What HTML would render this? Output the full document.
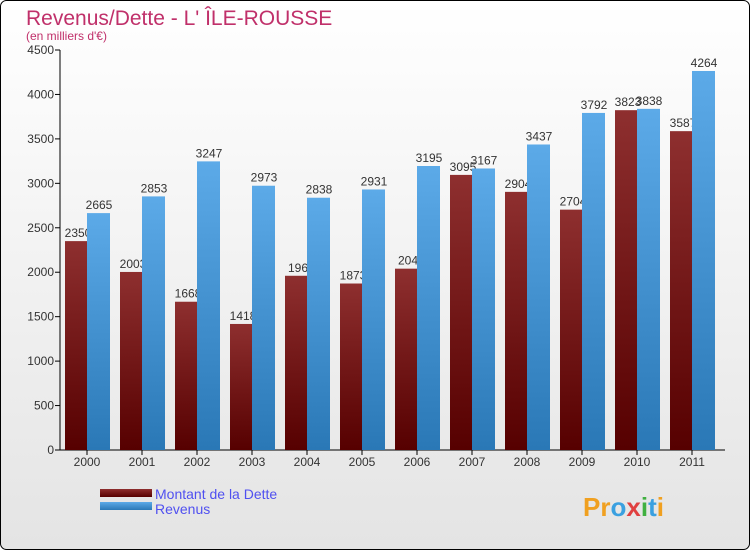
<!DOCTYPE html>
<html><head><meta charset="utf-8"><style>
body{margin:0;background:#fff}
svg{display:block;font-family:"Liberation Sans",sans-serif}
</style></head><body>
<svg width="750" height="550">
<defs>
<linearGradient id="bg" x1="0" y1="0" x2="0" y2="1"><stop offset="0" stop-color="#ffffff"/><stop offset="1" stop-color="#e4e4e4"/></linearGradient>
<linearGradient id="gd" x1="0" y1="0" x2="0" y2="1"><stop offset="0" stop-color="#8e2f2f"/><stop offset="1" stop-color="#560000"/></linearGradient>
<linearGradient id="gr" x1="0" y1="0" x2="0" y2="1"><stop offset="0" stop-color="#5caae8"/><stop offset="1" stop-color="#2a78b6"/></linearGradient>
</defs>
<rect x="0.5" y="0.5" width="749" height="549" rx="6" fill="url(#bg)" stroke="#000"/>
<text x="26" y="25" font-size="21" fill="#c0306a">Revenus/Dette - L' ÎLE-ROUSSE</text>
<text x="26" y="40" font-size="12" fill="#c0306a">(en milliers d'€)</text>
<g id="plot"></g>
<rect x="100" y="489" width="52" height="8" fill="url(#gd)"/>
<rect x="100" y="502" width="52" height="8" fill="url(#gr)"/>
<text x="155" y="499" font-size="14" fill="#5050f0">Montant de la Dette</text>
<text x="155" y="514" font-size="14" fill="#5050f0">Revenus</text>
<text x="583" y="516" font-size="26" font-weight="bold"><tspan fill="#f0a020">Pr</tspan><tspan fill="#3aa0e0">o</tspan><tspan fill="#e04040">x</tspan><tspan fill="#40b040">i</tspan><tspan fill="#3aa0e0">t</tspan><tspan fill="#f0a020">i</tspan></text>
</svg>
<script>
const years=["2000","2001","2002","2003","2004","2005","2006","2007","2008","2009","2010","2011"];
const dette=[2350,2003,1668,1418,1960,1873,2040,3095,2904,2704,3823,3587];
const detteLabels=["2350","2003","1668","1418","196","1873","204","3095","2904","2704","3823","3587"];
const revenus=[2665,2853,3247,2973,2838,2931,3195,3167,3437,3792,3838,4264];
const ticks=[0,500,1000,1500,2000,2500,3000,3500,4000,4500];
const NS="http://www.w3.org/2000/svg",g=document.getElementById('plot');
const y=v=>450-v*400/4500, x0=i=>60+i*55;
function mk(t,a,txt){const e=document.createElementNS(NS,t);for(const k in a)e.setAttribute(k,a[k]);if(txt!=null)e.textContent=txt;g.appendChild(e);return e;}
let e=mk('line',{x1:60,y1:50,x2:60,y2:450,stroke:'#000'});

e=mk('line',{x1:60,y1:450,x2:725,y2:450,stroke:'#000'});

ticks.forEach(t=>{
 let l=mk('line',{x1:55,y1:y(t),x2:60,y2:y(t),stroke:'#000'});
 
 let s=mk('text',{x:54,y:y(t)+4,'font-size':12,fill:'#333','text-anchor':'end'},String(t));
 
});
years.forEach((yr,i)=>{
 const s=x0(i);
 let r=mk('rect',{x:s+5,y:y(dette[i]),width:22,height:450-y(dette[i]),fill:'url(#gd)'});
 
 let t=mk('text',{x:s+18,y:y(dette[i])-4,'font-size':12,fill:'#333','text-anchor':'middle'},detteLabels[i]);
 
});
years.forEach((yr,i)=>{
 const s=x0(i);
 let r=mk('rect',{x:s+27,y:y(revenus[i]),width:23,height:450-y(revenus[i]),fill:'url(#gr)'});
 
 let t=mk('text',{x:s+39,y:y(revenus[i])-4,'font-size':12,fill:'#333','text-anchor':'middle'},String(revenus[i]));
 
 let k=mk('line',{x1:s+27,y1:450,x2:s+27,y2:455,stroke:'#000'});
 
 let l=mk('text',{x:s+27,y:466,'font-size':12,fill:'#333','text-anchor':'middle'},yr);
 
});
</script>
</body></html>
